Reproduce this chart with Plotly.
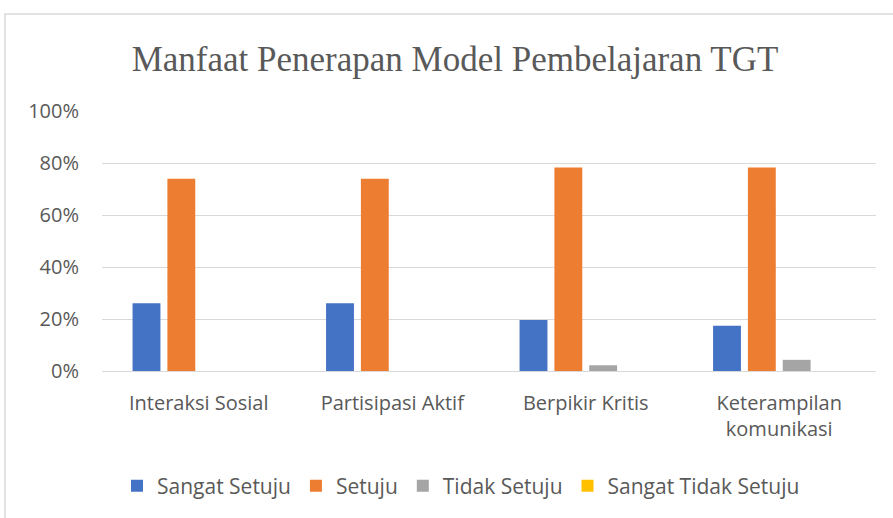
import plotly.graph_objects as go

categories = ["Interaksi Sosial", "Partisipasi Aktif", "Berpikir Kritis", "Keterampilan<br>komunikasi"]
sangat_setuju = [0.261, 0.261, 0.196, 0.174]
setuju = [0.739, 0.739, 0.783, 0.783]
tidak_setuju = [0.0, 0.0, 0.022, 0.043]
sangat_tidak_setuju = [0.0, 0.0, 0.0, 0.0]
tick_vals = [0, 0.2, 0.4, 0.6, 0.8, 1.0]
tick_text = ["0%", "20%", "40%", "60%", "80%", "100%"]

series = [
    ("Sangat Setuju", sangat_setuju, "#4472C4"),
    ("Setuju", setuju, "#ED7D31"),
    ("Tidak Setuju", tidak_setuju, "#A5A5A5"),
    ("Sangat Tidak Setuju", sangat_tidak_setuju, "#FFC000"),
]

W, H = 893, 518
L, R, T, B = 102, 17, 111, 147
pw, ph = W - L - R, H - T - B

fig = go.Figure()
for name, vals, col in series:
    fig.add_trace(go.Bar(x=categories, y=vals, name=name, marker=dict(color=col, line=dict(width=0))))

def px(x):
    return (x - L) / pw

def py(y):
    return (H - B - y) / ph

SANS = "Open Sans, sans-serif"

fig.update_layout(
    width=W, height=H,
    margin=dict(l=L, r=R, t=T, b=B),
    paper_bgcolor="white", plot_bgcolor="white",
    barmode="group", bargap=0.28, bargroupgap=0.2,
    font=dict(family=SANS, size=20, color="#595959"),
    title=dict(text="Manfaat Penerapan Model Pembelajaran TGT",
               font=dict(family="Liberation Serif, serif", size=35, color="#595959"),
               x=px(455), xref="paper", xanchor="center",
               y=1 - 59 / H, yref="container", yanchor="middle"),
    xaxis=dict(showgrid=False, showline=False, ticks="", ticklabelstandoff=18,
               tickfont=dict(family=SANS, size=20, color="#595959")),
    yaxis=dict(range=[0, 1.0], tickvals=tick_vals, ticktext=tick_text,
               showgrid=True, gridcolor="#d9d9d9", gridwidth=1,
               zeroline=True, zerolinecolor="#d9d9d9", zerolinewidth=1,
               showline=False, ticks="", ticklabelstandoff=22,
               tickfont=dict(family=SANS, size=20, color="#595959")),
    legend=dict(orientation="h", x=px(461), xanchor="center", y=py(486), yanchor="middle",
                font=dict(family=SANS, size=21, color="#595959"), itemwidth=30, traceorder="normal"),
    shapes=[dict(type="rect", xref="paper", yref="paper",
                 x0=px(5), x1=px(905), y0=py(530), y1=py(14),
                 line=dict(color="#d9d9d9", width=1.5), layer="below")],
)

fig.write_html("out.html", config={"displayModeBar": False},
               post_script="document.body.style.margin='0';")
